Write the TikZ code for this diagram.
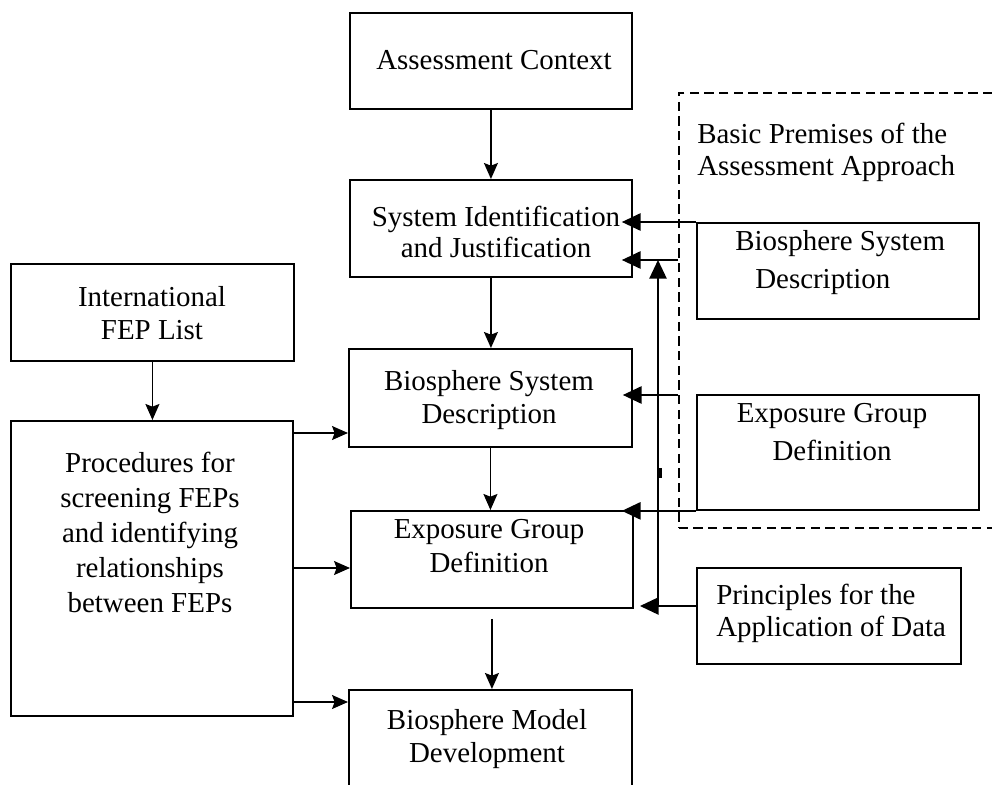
\documentclass[tikz,border=0pt]{standalone}
\usepackage{fontspec}
\setmainfont{Liberation Serif}
\usetikzlibrary{arrows.meta}
\begin{document}
\begin{tikzpicture}[x=0.75pt,y=-0.75pt,
  box/.style={draw, line width=1.4pt, inner sep=0pt, anchor=north west},
  dbox/.style={draw, line width=1.2pt, dash pattern=on 7pt off 4pt, inner sep=0pt, anchor=north west},
  txt/.style={font=\fontsize{21.7pt}{25pt}\selectfont, align=center, inner sep=0pt},
  arrL/.style={line width=1.1pt, -{Stealth[length=12pt,width=10.5pt,inset=2pt]}},
  arrR/.style={line width=1.1pt, -{Triangle[length=14pt,width=13pt]}},
]
\useasboundingbox (0,0) rectangle (992,785);
\clip (0,0) rectangle (992,785);

% boxes
\node[box, minimum width=211.5pt, minimum height=72pt] (ac) at (349,12) {};
\node[box, minimum width=211.5pt, minimum height=72.75pt] (sid) at (349,179) {};
\node[box, minimum width=212.25pt, minimum height=73.5pt] (bsd) at (348,348) {};
\node[box, minimum width=211.5pt, minimum height=72.75pt] (egd) at (350,510) {};
\node[box, minimum width=212.25pt, minimum height=112.5pt] (bmd) at (348,689) {};
\node[box, minimum width=212.25pt, minimum height=72.75pt] (fep) at (10,263) {};
\node[box, minimum width=211.5pt, minimum height=221.25pt] (proc) at (10,420) {};
\node[box, minimum width=211.5pt, minimum height=72pt] (bsdR) at (696,222) {};
\node[box, minimum width=211.5pt, minimum height=86.25pt] (egdR) at (696,394) {};
\node[box, minimum width=198pt, minimum height=72pt] (prin) at (696,567) {};
\node[dbox, minimum width=262.5pt, minimum height=326.25pt] (dash) at (678,92) {};

% texts
\node[txt] (tac) at (494,60) {Assessment Context};
\node[txt, font=\fontsize{21.7pt}{23.5pt}\selectfont] (tsid) at (496,232) {System Identification\\and Justification};
\node[txt] (tbsd) at (489,400) {Biosphere System\\Description};
\node[txt] (tegd) at (489,546) {Exposure Group\\Definition};
\node[txt] (tbmd) at (487,739) {Biosphere Model\\Development};
\node[txt] (tfep) at (152,313) {International\\FEP List};
\node[txt, font=\fontsize{21.7pt}{26.25pt}\selectfont] (tproc) at (150,532) {Procedures for\\screening FEPs\\and identifying\\relationships\\between FEPs};
\node[txt, anchor=west, align=left, font=\fontsize{21.7pt}{28.5pt}\selectfont] (tbsdR) at (735,263) {Biosphere System\\\hspace*{15pt}Description};
\node[txt, font=\fontsize{21.7pt}{29pt}\selectfont] (tegdR) at (832,432) {Exposure Group\\Definition};
\node[txt, anchor=west, align=left, font=\fontsize{21.7pt}{24pt}\selectfont] (tprin) at (716,613) {Principles for the\\Application of Data};
\node[txt, anchor=west, align=left, font=\fontsize{21.7pt}{24pt}\selectfont] (tbp) at (697,152) {Basic Premises of the\\Assessment Approach};

% central chain
\draw[arrL] (ac.south) -- (sid.north);
\draw[arrL] (sid.south) -- (sid.south |- bsd.north);
\draw[arrL] (bsd.south) -- (bsd.south |- egd.north);
\draw[arrL] ([yshift=-7.5pt]egd.south) -- (egd.south |- bmd.north);
\draw[arrL] (fep.south) -- (fep.south |- proc.north);

% left arrows
\draw[arrL] (proc.east |- 0,433) -- (bsd.west |- 0,433);
\draw[arrL] (proc.east |- 0,568) -- (egd.west |- 0,568);
\draw[arrL] (proc.east |- 0,702) -- (bmd.west |- 0,702);

% right arrows
\draw[arrR, shorten >=-8.25pt] (bsdR.north west) -- (sid.east |- bsdR.north west);
\draw[arrR, shorten >=-8.25pt] (dash.west |- 0,260) -- (sid.east |- 0,260);
\draw[arrR, shorten >=-7.5pt] (dash.west |- 0,395) -- (bsd.east |- 0,395);
\draw[arrR, shorten >=-9pt] (egdR.south west) -- (egd.east |- egdR.south west);
\coordinate (v) at (658,607);
\draw[arrR] (v) -- (v |- 0,260);
\draw[arrR, shorten >=-13.5pt] (prin.west |- 0,606) -- (v |- 0,606);
\draw[line width=2.2pt] (660.5,468) -- (660.5,478);
\end{tikzpicture}
\end{document}
